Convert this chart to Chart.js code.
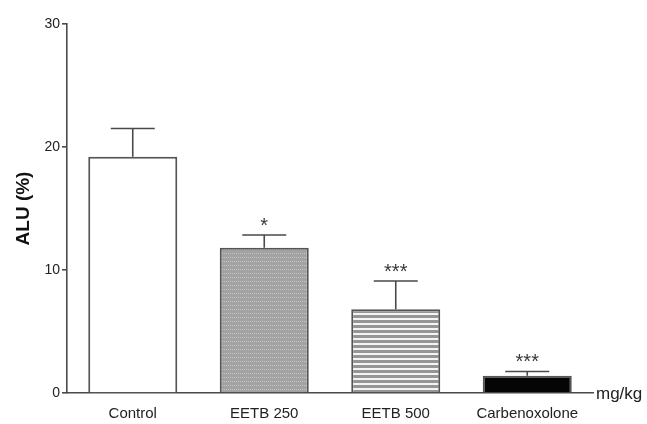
<!DOCTYPE html>
<html>
<head>
<meta charset="utf-8">
<script src="https://cdn.jsdelivr.net/npm/chart.js@4"></script>
<style>
  html, body { margin: 0; padding: 0; background: #fff; }
  #wrap { width: 647px; height: 424px; }
</style>
</head>
<body>
<div id="wrap"><canvas id="aluChart" width="647" height="424"></canvas></div>
<script>
// Chart data
const categories = ['Control', 'EETB 250', 'EETB 500', 'Carbenoxolone'];
const meanValues = [19.2, 11.8, 6.8, 1.4];
const errorValues = [2.3, 1.05, 2.3, 0.35];
const significance = ['', '*', '***', '***'];
const yTicks = [0, 10, 20, 30];

const FONT = '"Liberation Sans", Arial, sans-serif';
const AXIS_COLOR = '#4a4a4a';

// Build fill patterns for the bars
const makePattern = (w, h, draw) => {
    const tile = document.createElement('canvas');
    tile.width = w;
    tile.height = h;
    const c = tile.getContext('2d');
    draw(c);
    return document.getElementById('aluChart').getContext('2d').createPattern(tile, 'repeat');
};

const dottedGray = makePattern(4, 4, (c) => {
    c.fillStyle = '#a2a2a2';
    c.fillRect(0, 0, 4, 4);
    c.fillStyle = '#c6c6c6';
    c.fillRect(0, 1, 1, 1);
    c.fillRect(2, 1, 1, 1);
});

const stripedGray = makePattern(1, 5, (c) => {
    c.fillStyle = '#959595';
    c.fillRect(0, 0, 1, 3);
    c.fillStyle = '#f4f4f4';
    c.fillRect(0, 3, 1, 2);
});

const barFills = ['#ffffff', dottedGray, stripedGray, '#050505'];

// Error bars, significance stars and unit label
const extrasPlugin = {
    id: 'extras',
    afterDatasetsDraw(chart) {
        const { ctx, scales: { y }, chartArea } = chart;
        const meta = chart.getDatasetMeta(0);
        ctx.save();
        ctx.strokeStyle = AXIS_COLOR;
        ctx.lineWidth = 1.6;
        meta.data.forEach((bar, i) => {
            const cx = bar.x;
            const top = y.getPixelForValue(meanValues[i]);
            const errTop = y.getPixelForValue(meanValues[i] + errorValues[i]);
            ctx.beginPath();
            ctx.moveTo(cx, top);
            ctx.lineTo(cx, errTop);
            ctx.moveTo(cx - 22, errTop);
            ctx.lineTo(cx + 22, errTop);
            ctx.stroke();
            if (significance[i]) {
                ctx.fillStyle = '#3a3a3a';
                ctx.font = '20px ' + FONT;
                ctx.textAlign = 'center';
                ctx.textBaseline = 'alphabetic';
                ctx.fillText(significance[i], cx, errTop - 3);
            }
        });
        ctx.fillStyle = '#222';
        ctx.font = '17px ' + FONT;
        ctx.textAlign = 'left';
        ctx.textBaseline = 'middle';
        ctx.fillText('mg/kg', chartArea.right + 3, chartArea.bottom + 1);
        ctx.restore();
    },
};

new Chart(document.getElementById('aluChart'), {
    type: 'bar',
    data: {
        labels: categories,
        datasets: [
            {
                data: meanValues,
                backgroundColor: barFills,
                borderColor: '#555',
                borderWidth: 2,
                borderSkipped: 'bottom',
                categoryPercentage: 1,
                barPercentage: 0.677,
            },
        ],
    },
    options: {
        responsive: false,
        animation: false,
        layout: { padding: { top: 24, right: 54, bottom: 0, left: 0 } },
        plugins: {
            legend: { display: false },
            tooltip: { enabled: false },
        },
        scales: {
            x: {
                grid: { display: false },
                border: { display: true, color: AXIS_COLOR, width: 1.6 },
                ticks: {
                    color: '#222',
                    font: { family: FONT, size: 15 },
                    padding: 4,
                },
                afterFit(scale) { scale.height = 31; },
            },
            y: {
                min: 0,
                max: 30,
                afterBuildTicks(scale) {
                    scale.ticks = yTicks.map((v) => ({ value: v }));
                },
                grid: {
                    drawOnChartArea: false,
                    drawTicks: true,
                    tickLength: 5,
                    color: AXIS_COLOR,
                    lineWidth: 1.6,
                },
                border: { display: true, color: AXIS_COLOR, width: 1.6 },
                ticks: {
                    color: '#222',
                    font: { family: FONT, size: 14 },
                    padding: 2,
                },
                title: {
                    display: true,
                    text: 'ALU (%)',
                    color: '#111',
                    font: { family: FONT, size: 19, weight: 'bold' },
                    padding: { top: 12, bottom: 0 },
                },
                afterFit(scale) { scale.width = 67; },
            },
        },
    },
    plugins: [extrasPlugin],
});
</script>
</body>
</html>
